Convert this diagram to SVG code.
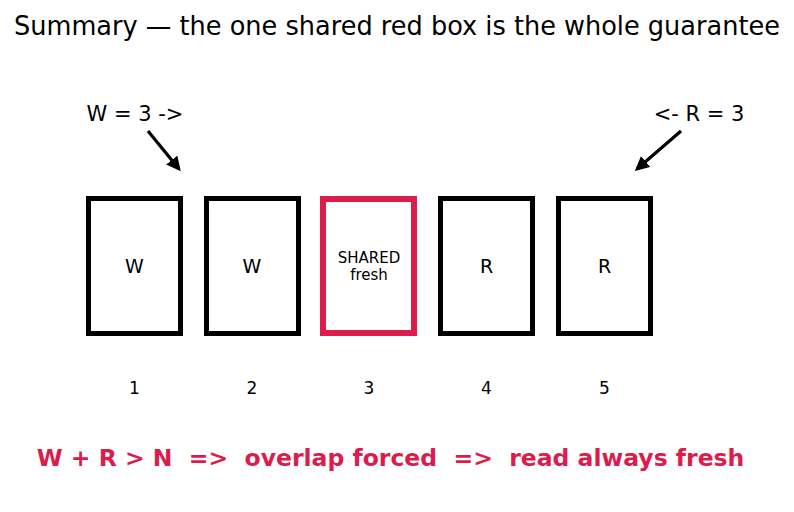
<svg xmlns="http://www.w3.org/2000/svg" width="794" height="512" viewBox="0 0 794 512">
<defs>
<style>
text{font-family:"DejaVu Sans","Liberation Sans",sans-serif;fill:#000}
.box{fill:#fff;stroke:#000;stroke-width:5}
.red{stroke:#DC1C4B;stroke-width:6}
.lbl{font-size:19px;text-anchor:middle}
.num{font-size:17px;text-anchor:middle}
.arr{stroke:#000;stroke-width:3.2;fill:none;marker-end:url(#ah)}
</style>
<marker id="ah" viewBox="0 0 10 10" refX="8" refY="5" markerWidth="4.5" markerHeight="4.5" orient="auto" markerUnits="strokeWidth">
<path d="M0,0 L10,5 L0,10 z" fill="#000"/>
</marker>
</defs>
<rect width="794" height="512" fill="#fff"/>
<text x="397" y="35" font-size="26.5" text-anchor="middle" textLength="766" lengthAdjust="spacingAndGlyphs">Summary — the one shared red box is the whole guarantee</text>
<text x="135" y="121" font-size="21" text-anchor="middle">W = 3 -&gt;</text>
<text x="699" y="121" font-size="21" text-anchor="middle">&lt;- R = 3</text>
<g id="connectors">
<line class="arr" x1="148" y1="131" x2="179" y2="169"/>
<line class="arr" x1="681" y1="131" x2="637" y2="169"/>
</g>
<g id="node1"><rect class="box" x="88.5" y="198.5" width="92" height="135"/><text class="lbl" x="134.5" y="273">W</text><text class="num" x="134.5" y="394">1</text></g>
<g id="node2"><rect class="box" x="206.5" y="198.5" width="92" height="135"/><text class="lbl" x="252" y="273">W</text><text class="num" x="252" y="394">2</text></g>
<g id="node3"><rect class="box red" x="323" y="199" width="91" height="134"/><text x="369" y="263" font-size="15" text-anchor="middle">SHARED</text><text x="369" y="280" font-size="15" text-anchor="middle">fresh</text><text class="num" x="369" y="394">3</text></g>
<g id="node4"><rect class="box" x="440.5" y="198.5" width="92" height="135"/><text class="lbl" x="486.5" y="273">R</text><text class="num" x="486.5" y="394">4</text></g>
<g id="node5"><rect class="box" x="558.5" y="198.5" width="92" height="135"/><text class="lbl" x="604.5" y="273">R</text><text class="num" x="604.5" y="394">5</text></g>
<text x="390.5" y="466" font-size="23.5" font-weight="bold" text-anchor="middle" style="fill:#DC1C4B" xml:space="preserve">W + R &gt; N  =&gt;  overlap forced  =&gt;  read always fresh</text>
</svg>
